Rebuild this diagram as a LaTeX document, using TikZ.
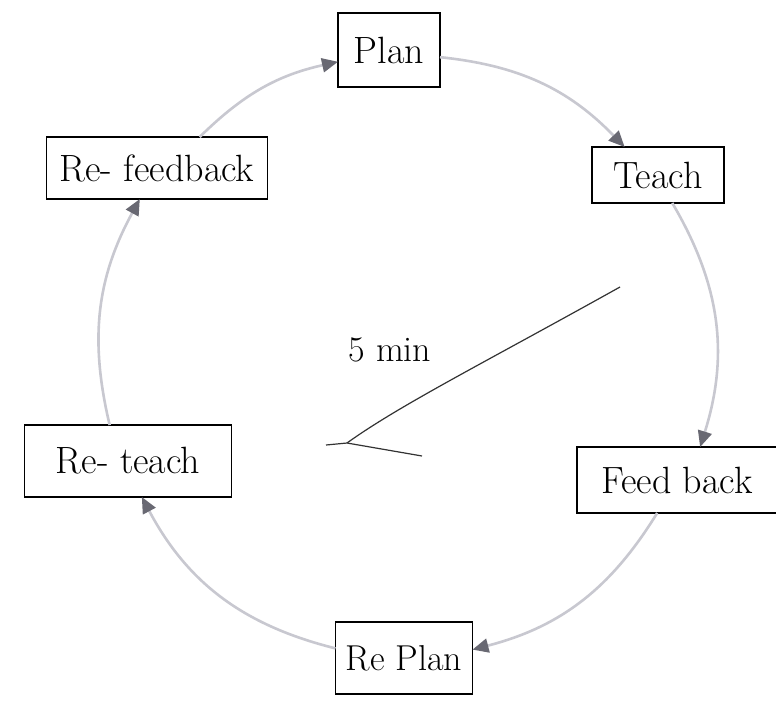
\documentclass[tikz,border=0pt]{standalone}
\usetikzlibrary{arrows.meta}
\definecolor{cyclegray}{RGB}{200,200,208}
\definecolor{tipgray}{RGB}{105,105,115}
\begin{document}
\begin{tikzpicture}[x=1pt,y=1pt,
  stage/.style={draw=black, line width=1.6pt, inner sep=0pt, outer sep=0pt,
    font=\fontsize{38}{42}\selectfont},
  cyc/.style={draw=cyclegray, line width=2.6pt,
    -{Triangle[length=16pt,width=14pt,color=tipgray]}},
  hand/.style={line width=1.2pt, draw=black!80},
]
\useasboundingbox (0,0) rectangle (776,-702);
\fill[white] (0,0) rectangle (776,-702);

\node[stage, minimum width=102pt, minimum height=74pt] (plan) at (389,-50) {Plan};
\node[stage, minimum width=132pt, minimum height=56pt] (teach) at (658,-175) {Teach};
\node[stage, minimum width=200pt, minimum height=66pt] (feedback) at (677,-480) {Feed back};
\node[stage, minimum width=137pt, minimum height=72pt, font=\fontsize{36}{42}\selectfont] (replan) at (404,-658) {Re Plan};
\node[stage, minimum width=207pt, minimum height=72pt] (reteach) at (128,-461) {Re- teach};
\node[stage, minimum width=221pt, minimum height=62pt] (refeedback) at (157,-168) {Re- feedback};

\draw[cyc] (plan.-8) to[bend left=20] (teach.140);
\draw[cyc] (teach.-63) to[bend left=24] (feedback.55);
\draw[cyc] (feedback.-121) to[bend left=22] (replan.7);
\draw[cyc] (replan.172) to[bend left=24] (reteach.-69);
\draw[cyc] (reteach.117) to[bend left=21] (refeedback.241);
\draw[cyc] (refeedback.36) to[bend left=16] (plan.193);

\node[font=\fontsize{36}{42}\selectfont] (label) at (390,-350) {5 min};
\coordinate (hub) at (347,-443);
\coordinate (hand1) at (620,-287);
\coordinate (stubl) at (326,-445);
\coordinate (stubr) at (422,-456);
\draw[hand] (hand1) .. controls (480,-365) and (400,-405) .. (hub);
\draw[hand] (stubl) -- (hub) -- (stubr);
\end{tikzpicture}
\end{document}
